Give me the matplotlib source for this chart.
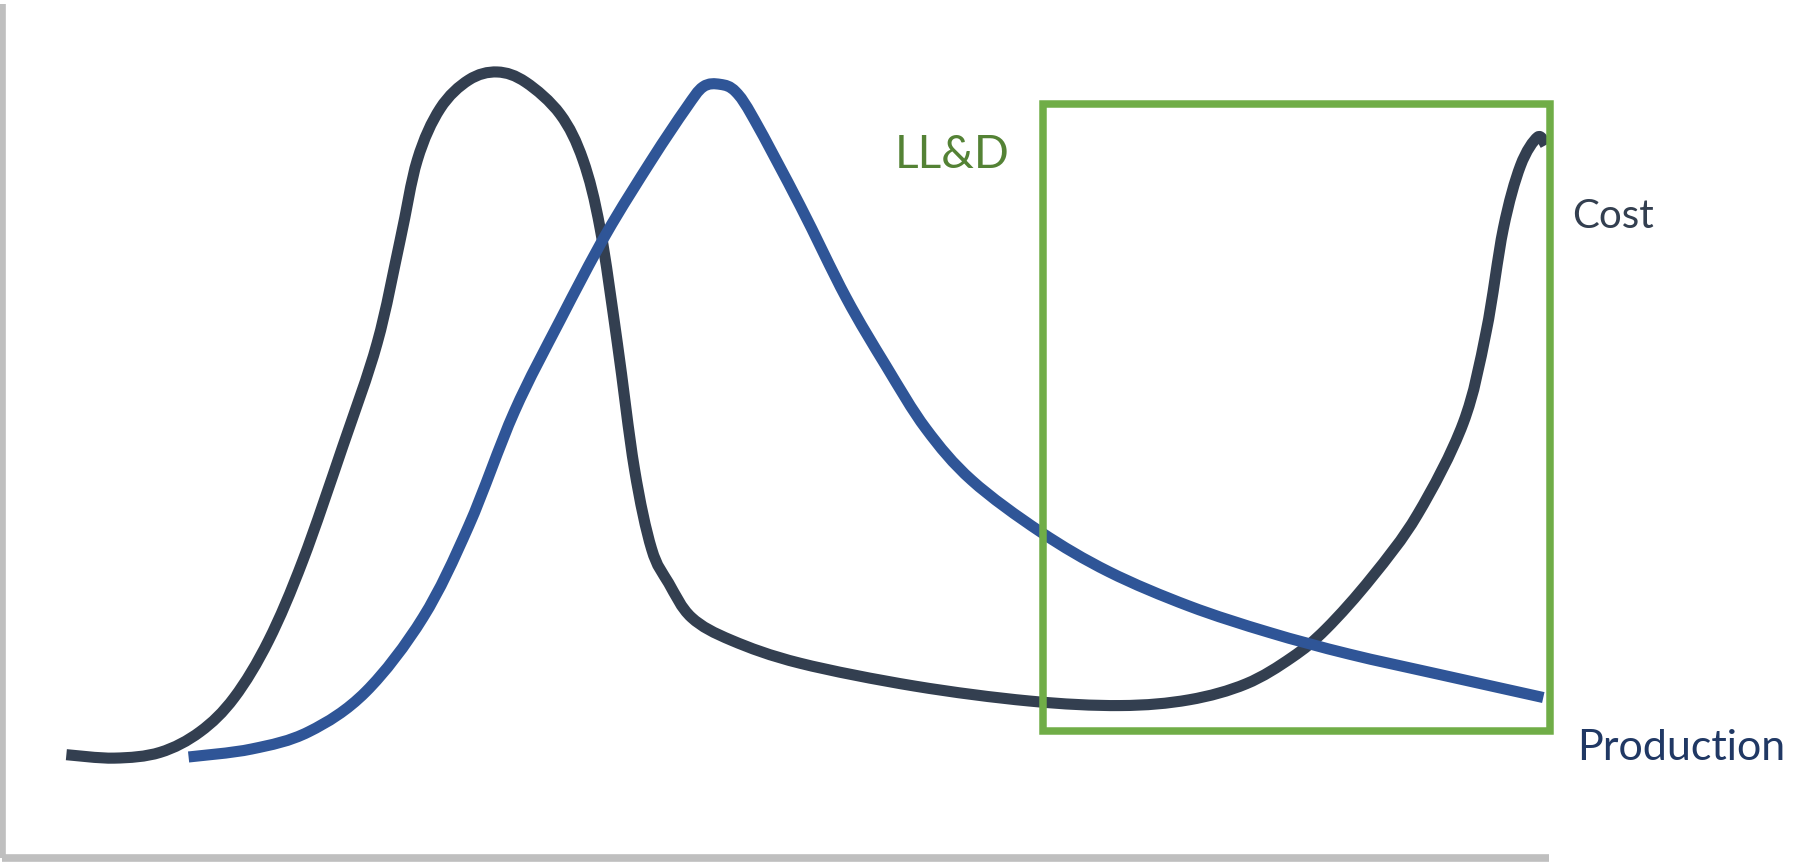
import matplotlib
matplotlib.use("Agg")
import numpy as np
import matplotlib.pyplot as plt
from matplotlib.patches import Rectangle, PathPatch
from matplotlib.path import Path

# ---- data (arbitrary 0-100 units) ----
cost_x = [3.93, 7.04, 10.0, 12.59, 14.81, 17.04, 19.26, 21.85, 24.07, 25.56, 26.67,
          28.15, 30.0, 31.85, 33.70, 35.93, 37.41, 38.52, 39.63, 40.74, 41.85,
          42.96, 44.44, 47.04, 51.48, 58.89, 66.30, 72.22, 76.67, 80.37, 83.33,
          85.56, 88.52, 91.48, 94.44, 95.93, 97.04, 98.15, 99.26, 99.78]
cost_y = [8.65, 8.23, 8.93, 11.44, 15.62, 22.59, 32.36, 46.30, 58.86, 71.41, 81.17,
          87.45, 90.93, 91.91, 90.66, 86.75, 81.17, 72.80, 58.86, 43.51, 33.75,
          29.57, 25.38, 22.59, 19.80, 17.02, 15.20, 14.64, 15.34, 17.29, 20.50,
          23.99, 30.27, 37.94, 49.09, 60.25, 72.80, 80.47, 83.96, 82.98]

prod_x = [11.85, 15.93, 19.63, 23.33, 27.04, 30.0, 32.96, 35.93, 38.89, 41.85, 44.07,
          45.19, 46.30, 47.30, 48.52, 51.48, 54.44, 57.04, 59.63, 62.59, 67.04, 71.48,
          76.67, 81.85, 87.04, 92.96, 99.63]
prod_y = [8.37, 9.34, 11.44, 16.32, 25.38, 36.54, 50.49, 61.65, 72.11, 81.17, 87.45,
          90.10, 90.40, 89.50, 86.05, 75.59, 64.44, 56.07, 48.40, 42.12, 35.84, 30.96,
          26.78, 23.57, 20.92, 18.41, 15.62]

box_x = [67.19, 100.07]
box_y = [11.58, 88.0]

labels = ["LL&D", "Cost", "Production"]


def smooth_path(xs, ys):
    """Smoothed line through the points (Catmull-Rom as cubic Bezier segments)."""
    p = np.column_stack([xs, ys]).astype(float)
    n = len(p)
    verts = [p[0]]
    codes = [Path.MOVETO]
    for i in range(n - 1):
        p0 = p[i - 1] if i > 0 else p[i]
        p1, p2 = p[i], p[i + 1]
        p3 = p[i + 2] if i + 2 < n else p[i + 1]
        c1 = p1 + (p2 - p0) / 6.0
        c2 = p2 - (p3 - p1) / 6.0
        verts += [c1, c2, p2]
        codes += [Path.CURVE4] * 3
    return Path(verts, codes)


# ---- figure ----
W, H = 1793, 866
fig = plt.figure(figsize=(W / 100, H / 100), dpi=100)
ax = fig.add_axes([2 / W, (H - 858) / H, 1547 / W, 854 / H])
ax.set_xlim(-0.24, 100.0)
ax.set_ylim(-3.95, 100.2)

for s in ["top", "right"]:
    ax.spines[s].set_visible(False)
for s in ["left", "bottom"]:
    ax.spines[s].set_color("#BFBFBF")
    ax.spines[s].set_linewidth(5.5)
    ax.spines[s].set_capstyle("butt")
ax.set_xticks([])
ax.set_yticks([])

ax.add_patch(PathPatch(smooth_path(cost_x, cost_y), fill=False, edgecolor="#333F50",
                       lw=8.0, joinstyle="round", capstyle="butt", clip_on=False))
ax.add_patch(PathPatch(smooth_path(prod_x, prod_y), fill=False, edgecolor="#2F5597",
                       lw=8.0, joinstyle="round", capstyle="butt", clip_on=False))

ax.add_patch(Rectangle((box_x[0], box_y[0]), box_x[1] - box_x[0], box_y[1] - box_y[0],
                       fill=False, edgecolor="#70AD47", lw=5.4, joinstyle="miter",
                       clip_on=False))

fam = ["Lato", "DejaVu Sans"]
ax.text(57.6, 80.2, labels[0], color="#548235", fontsize=33, family=fam,
        va="baseline", ha="left", clip_on=False)
ax.text(101.5, 72.9, labels[1], color="#333F50", fontsize=29, family=fam,
        va="baseline", ha="left", clip_on=False)
ax.text(101.8, 8.0, labels[2], color="#203864", fontsize=31, family=fam,
        va="baseline", ha="left", clip_on=False)

fig.savefig("out.png", dpi=100)
